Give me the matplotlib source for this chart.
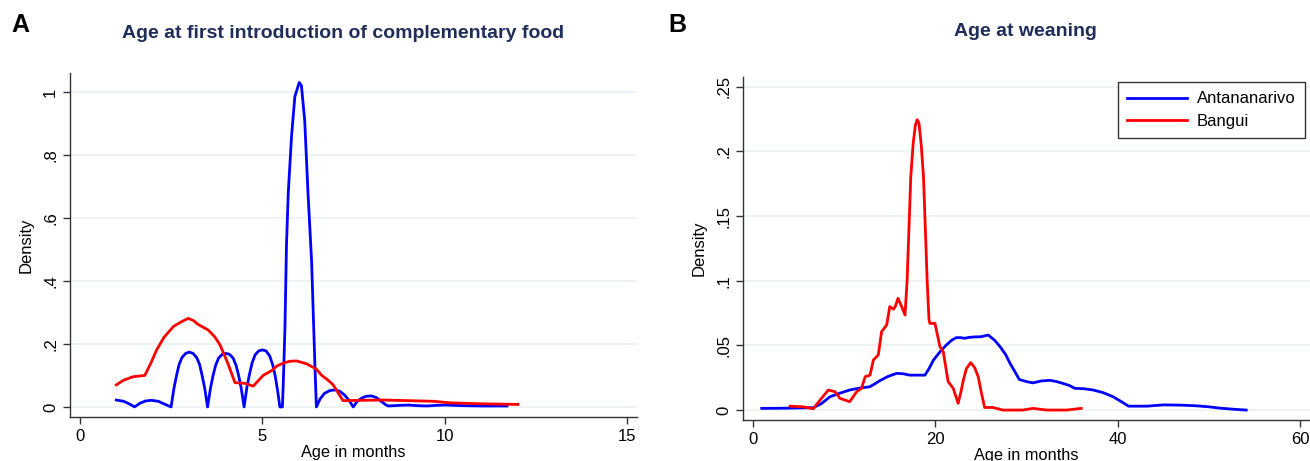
import matplotlib
matplotlib.use('Agg')
import matplotlib.pyplot as plt

plt.rcParams['font.family'] = ['Liberation Sans', 'DejaVu Sans']

# Panel A: age at first introduction of complementary food (kernel density)
a_tana_x = [1.0, 1.2, 1.35, 1.5, 1.65, 1.8, 1.96, 2.15, 2.3, 2.5,
            2.58, 2.65, 2.72, 2.8, 2.9, 3.0, 3.1, 3.2, 3.28, 3.35, 3.42, 3.5,
            3.58, 3.65, 3.72, 3.8, 3.9, 4.0, 4.1, 4.2, 4.28, 4.35, 4.42, 4.5,
            4.58, 4.65, 4.72, 4.8, 4.9, 5.0, 5.1, 5.2, 5.28, 5.35, 5.42, 5.48, 5.55,
            5.58, 5.62, 5.66, 5.71, 5.8, 5.89, 6.01, 6.07, 6.16, 6.25, 6.35, 6.44, 6.48,
            6.58, 6.7, 6.85, 6.99, 7.12, 7.25, 7.38, 7.49,
            7.6, 7.72, 7.85, 7.99, 8.12, 8.25, 8.38, 8.45,
            8.75, 9.0, 9.25, 9.5, 9.75, 10.0, 10.5, 11.0, 11.7]
a_tana_y = [0.022, 0.018, 0.01, 0.0, 0.012, 0.019, 0.021, 0.018, 0.01, 0.0,
            0.06, 0.1, 0.135, 0.157, 0.17, 0.174, 0.17, 0.157, 0.135, 0.1, 0.06, 0.0,
            0.06, 0.1, 0.132, 0.155, 0.167, 0.17, 0.167, 0.155, 0.132, 0.1, 0.06, 0.0,
            0.065, 0.105, 0.14, 0.165, 0.178, 0.181, 0.178, 0.162, 0.135, 0.1, 0.05, 0.0, 0.0,
            0.1, 0.255, 0.51, 0.68, 0.86, 0.985, 1.03, 1.02, 0.91, 0.68, 0.46, 0.13, 0.0,
            0.025, 0.043, 0.052, 0.054, 0.05, 0.038, 0.02, 0.0,
            0.018, 0.028, 0.034, 0.035, 0.03, 0.018, 0.007, 0.003,
            0.005, 0.006, 0.004, 0.003, 0.005, 0.006, 0.004, 0.003, 0.003]
a_bangui_x = [1.0, 1.2, 1.46, 1.78, 1.95, 2.1, 2.3, 2.56, 2.79, 2.97, 3.1, 3.24, 3.52, 3.7, 3.84, 4.05,
              4.25, 4.52, 4.75, 5.02, 5.25, 5.4, 5.57, 5.75, 5.94, 6.21, 6.48, 6.62, 6.8, 6.94, 7.21, 8.3,
              9.68, 10.14, 11.0, 12.0]
a_bangui_y = [0.07, 0.085, 0.096, 0.1, 0.14, 0.18, 0.22, 0.255, 0.271, 0.281, 0.275, 0.262, 0.244, 0.222, 0.197, 0.14,
              0.077, 0.075, 0.066, 0.1, 0.115, 0.13, 0.139, 0.145, 0.146, 0.137, 0.12, 0.101, 0.085, 0.07, 0.02, 0.022,
              0.018, 0.013, 0.01, 0.008]

# Panel B: age at weaning (kernel density)
b_tana_x = [0.95, 3.0, 6.6, 7.5, 8.44, 9.5, 10.6, 11.7, 12.8, 13.3, 13.9, 14.8, 15.76, 16.5, 17.2,
            18.0, 18.86, 19.3, 19.8, 20.5, 21.2, 21.8, 22.3, 22.8, 23.2, 23.7, 24.2, 25.0, 25.8,
            26.5, 27.1, 27.7, 28.2, 28.7, 29.2, 30.0, 30.7, 31.6, 32.6, 33.3, 34.0, 34.7, 35.3,
            36.3, 37.3, 38.4, 39.5, 40.4, 41.2, 43.2, 45.0, 47.0, 48.6, 50.0, 51.2, 52.6, 54.1]
b_tana_y = [0.0013, 0.0014, 0.0018, 0.005, 0.0103, 0.013, 0.0155, 0.017, 0.018, 0.02, 0.0227, 0.026, 0.0284, 0.028, 0.027,
            0.027, 0.027, 0.032, 0.0387, 0.045, 0.0503, 0.054, 0.056, 0.056, 0.0555, 0.0562, 0.0565, 0.0567, 0.058,
            0.054, 0.049, 0.043, 0.036, 0.03, 0.0237, 0.022, 0.021, 0.0225, 0.023, 0.022, 0.0206, 0.019, 0.0168,
            0.0165, 0.0155, 0.0135, 0.0103, 0.0065, 0.003, 0.003, 0.004, 0.0038, 0.0033, 0.0025, 0.0015, 0.0007, 0.0]
b_bangui_x = [4.06, 5.5, 6.6, 7.35, 8.26, 9.0, 9.54, 10.6, 11.37, 11.9, 12.3, 12.83, 13.2, 13.74,
              14.1, 14.66, 15.0, 15.4, 15.6, 15.9, 16.3, 16.67, 16.9, 17.1, 17.3, 17.55, 17.8, 18.0,
              18.2, 18.45, 18.7, 18.9, 19.1, 19.3, 19.4, 19.96, 20.5, 20.87, 21.4, 21.96, 22.5,
              22.8, 23.1, 23.4, 23.87, 24.3, 24.7, 25.0, 25.4, 26.3,
              27.4, 29.6, 30.7, 32.2, 34.4, 36.0]
b_bangui_y = [0.003, 0.0025, 0.001, 0.0077, 0.0155, 0.0142, 0.009, 0.0065, 0.0142, 0.0168, 0.0258, 0.027, 0.0387, 0.0426,
              0.0606, 0.0658, 0.08, 0.078, 0.08, 0.0864, 0.08, 0.0735, 0.1, 0.14, 0.18, 0.205, 0.22, 0.2245,
              0.222, 0.205, 0.18, 0.14, 0.1, 0.07, 0.067, 0.067, 0.049, 0.045, 0.022, 0.0168, 0.0052,
              0.014, 0.024, 0.032, 0.0366, 0.033, 0.0258, 0.015, 0.002, 0.002,
              0.0, 0.0, 0.0013, 0.0, 0.0, 0.0013]

a_yticks = [0, 0.2, 0.4, 0.6, 0.8, 1.0]
a_ylabels = ['0', '.2', '.4', '.6', '.8', '1']
a_xticks = [0, 5, 10, 15]
b_yticks = [0, 0.05, 0.1, 0.15, 0.2, 0.25]
b_ylabels = ['0', '.05', '.1', '.15', '.2', '.25']
b_xticks = [0, 20, 40, 60]

series_names = ['Antananarivo', 'Bangui']
blue = '#0000ff'
red = '#ff0000'
title_col = '#1f2d5a'
grid_col = '#eaf2f3'

fig = plt.figure(figsize=(13.1, 4.61), dpi=100)
axA = fig.add_axes([0.0534, 0.0954, 0.4328, 0.7462])
axB = fig.add_axes([0.5672, 0.0889, 0.4328, 0.7440])


def style(ax, yt, yl, xt):
    for s in ['top', 'right']:
        ax.spines[s].set_visible(False)
    for s in ['left', 'bottom']:
        ax.spines[s].set_color('#333333')
        ax.spines[s].set_linewidth(1.0)
    ax.set_yticks(yt)
    ax.set_yticklabels(yl, rotation=90, va='center')
    ax.set_xticks(xt)
    ax.tick_params(labelsize=12, length=5, width=1.0, color='#333333')
    ax.grid(axis='y', color=grid_col, linewidth=1.2)
    ax.set_axisbelow(True)
    ax.set_ylabel('Density', fontsize=12, labelpad=7)
    ax.set_xlabel('Age in months', fontsize=11.8, labelpad=1)


axA.plot(a_tana_x, a_tana_y, color=blue, lw=2.0)
axA.plot(a_bangui_x, a_bangui_y, color=red, lw=2.0)
axA.set_xlim(-0.27, 15.26)
axA.set_ylim(-0.032, 1.06)
style(axA, a_yticks, a_ylabels, a_xticks)

axB.plot(b_tana_x, b_tana_y, color=blue, lw=2.0, label=series_names[0])
axB.plot(b_bangui_x, b_bangui_y, color=red, lw=2.0, label=series_names[1])
axB.set_xlim(-1.1, 61.1)
axB.set_ylim(-0.0077, 0.2575)
style(axB, b_yticks, b_ylabels, b_xticks)
leg = axB.legend(loc='upper right', bbox_to_anchor=(0.991, 0.985), borderaxespad=0,
                 fontsize=12, frameon=True, fancybox=False, edgecolor='black',
                 handlelength=3.6, handletextpad=0.6, borderpad=0.55, labelspacing=0.45)
leg.get_frame().set_linewidth(1.0)

fig.text(343 / 1310, 1 - 33 / 461, 'Age at first introduction of complementary food',
         ha='center', va='center', fontsize=14, fontweight='bold', color=title_col)
fig.text(1025 / 1310, 1 - 31 / 461, 'Age at weaning',
         ha='center', va='center', fontsize=14, fontweight='bold', color=title_col)
fig.text(20 / 1310, 1 - 25 / 461, 'A', ha='center', va='center', fontsize=18, fontweight='bold')
fig.text(677 / 1310, 1 - 25 / 461, 'B', ha='center', va='center', fontsize=18, fontweight='bold')

fig.savefig('out.png', dpi=100, facecolor='white')
